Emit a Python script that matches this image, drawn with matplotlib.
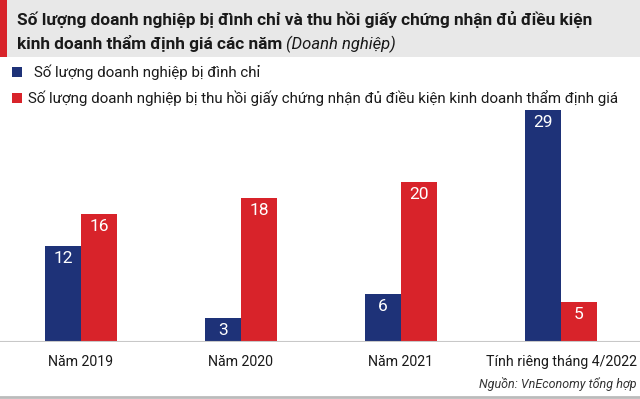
import matplotlib.pyplot as plt
from matplotlib.patches import Rectangle

# Số liệu
categories = ["Năm 2019", "Năm 2020", "Năm 2021", "Tính riêng tháng 4/2022"]
dinh_chi = [12, 3, 6, 29]
thu_hoi = [16, 18, 20, 5]
series_labels = ["Số lượng doanh nghiệp bị đình chỉ",
                 "Số lượng doanh nghiệp bị thu hồi giấy chứng nhận đủ điều kiện kinh doanh thẩm định giá"]

BLUE = "#1e3278"
RED = "#d8232a"
W, H = 640, 399

plt.rcParams['font.family'] = ['Roboto', 'DejaVu Sans']

fig = plt.figure(figsize=(6.4, 3.99), dpi=100)

def fx(x):
    return x / W

def fy(y):
    return 1 - y / H

# bandeau du titre
fig.patches.append(Rectangle((0, fy(57)), 1, 57 / H, transform=fig.transFigure,
                             facecolor="#e8e8e8", edgecolor="none", zorder=0))
fig.patches.append(Rectangle((0, fy(57)), fx(7), 57 / H, transform=fig.transFigure,
                             facecolor=RED, edgecolor="none", zorder=1))
fig.text(fx(17), fy(20), "Số lượng doanh nghiệp bị đình chỉ và thu hồi giấy chứng nhận đủ điều kiện",
         fontsize=12.4, fontweight="bold", color="#1a1a1a", va="center", ha="left")
t = fig.text(fx(17), fy(44), "kinh doanh thẩm định giá các năm ",
             fontsize=12.4, fontweight="bold", color="#1a1a1a", va="center", ha="left")
fig.canvas.draw()
bb = t.get_window_extent()
fig.text(bb.x1 / W, fy(44), "(Doanh nghiệp)", fontsize=12, style="italic",
         color="#1a1a1a", va="center", ha="left")

# légende
for (yl, col, lab, xt) in [(72, BLUE, series_labels[0], 34), (98, RED, series_labels[1], 28)]:
    fig.patches.append(Rectangle((fx(12), fy(yl + 5)), fx(10), 10 / H, transform=fig.transFigure,
                                 facecolor=col, edgecolor="none"))
    fig.text(fx(xt), fy(yl), lab, fontsize=10.9, color="#1a1a1a", va="center", ha="left")

# axes du graphique
ax = fig.add_axes([0, 57 / H, 1, 240 / H])
x = list(range(len(categories)))
bw = 36 / 160
ax.bar([i - bw / 2 for i in x], dinh_chi, width=bw, color=BLUE)
ax.bar([i + bw / 2 for i in x], thu_hoi, width=bw, color=RED)
for i in x:
    ax.text(i - bw / 2, dinh_chi[i] - 0.6, str(dinh_chi[i]), color="white", fontsize=12.5,
            ha="center", va="top")
    ax.text(i + bw / 2, thu_hoi[i] - 0.6, str(thu_hoi[i]), color="white", fontsize=12.5,
            ha="center", va="top")
ax.set_xlim(-81 / 160, (640 - 81) / 160)
ax.set_ylim(0, 30)
ax.axis("off")
ax.axhline(0, color="#c8c8c8", lw=1.5, zorder=3)

for i, c in enumerate(categories):
    fig.text(fx(81 + 160 * i), fy(362), c, fontsize=10.2, color="#1a1a1a", ha="center", va="center")

fig.text(fx(637), fy(384), "Nguồn: VnEconomy tổng hợp", fontsize=9, style="italic",
         color="#333333", ha="right", va="center")
fig.add_artist(plt.Line2D([0, 1], [fy(397), fy(397)], transform=fig.transFigure,
                          color="#bbbbbb", lw=2))

fig.savefig("out.png", dpi=100)
